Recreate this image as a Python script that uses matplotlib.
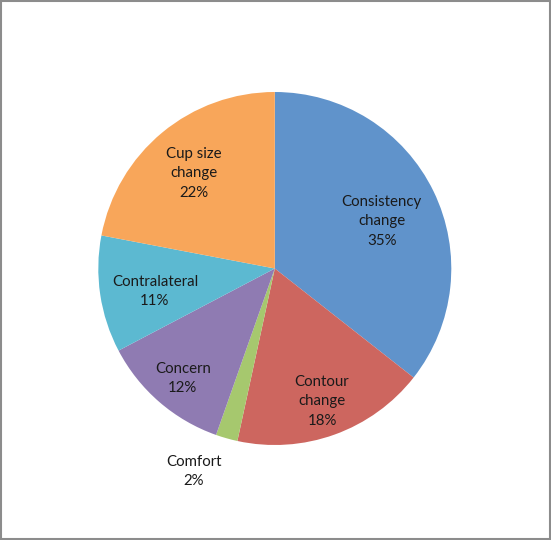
import matplotlib.pyplot as plt
import numpy as np
from matplotlib.patches import Rectangle

labels = ["Consistency\nchange", "Contour\nchange", "Comfort", "Concern", "Contralateral", "Cup size\nchange"]
values = [35.6, 17.8, 2.0, 11.9, 10.7, 22.0]
pct_labels = ["35%", "18%", "2%", "12%", "11%", "22%"]
colors = ["#6093CB", "#CD665F", "#A6C86E", "#8F7BB2", "#5CB9D1", "#F8A65A"]
# label distance (fraction of radius) and small angle tweak per slice
label_r = [0.666, 0.79, 1.23, 0.806, 0.69, 0.713]
label_da = [-1.5, 0, -6, 0.6, 1.7, 0.3]

fig = plt.figure(figsize=(5.51, 5.40), dpi=100)
ax = fig.add_axes([0, 0, 1, 1])

cx, cy, R = 274.8, 271.5, 176.5
ax.pie(values, colors=colors, startangle=90, counterclock=False,
       center=(cx, cy), radius=R, frame=True,
       wedgeprops=dict(linewidth=0))
ax.set_xlim(0, 551)
ax.set_ylim(0, 540)
ax.axis("off")

total = sum(values)
cum = 0
for i, v in enumerate(values):
    mid = 90 - 360 * (cum + v / 2) / total + label_da[i]
    cum += v
    x = cx + R * label_r[i] * np.cos(np.radians(mid))
    y = cy + R * label_r[i] * np.sin(np.radians(mid)) - 1.5
    ax.text(x, y, f"{labels[i]}\n{pct_labels[i]}", ha="center", va="center",
            fontsize=10.8, family="Lato", linespacing=1.5, color="#1a1a1a")

fig.patches.append(Rectangle((0.001, 0.001), 0.997, 0.997, transform=fig.transFigure,
                             fill=False, edgecolor="#8c8c8c", linewidth=1.5))

plt.savefig("out.png", dpi=100)
